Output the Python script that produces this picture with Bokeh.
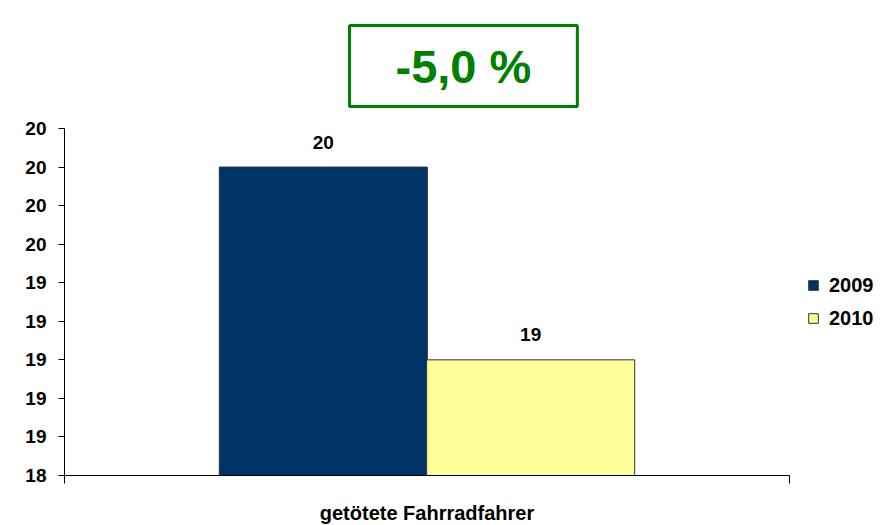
from bokeh.plotting import figure
from bokeh.models import (FactorRange, Range1d, FixedTicker, LinearAxis, ColumnDataSource,
                          Legend, LegendItem, Title)
from bokeh.transform import dodge
from bokeh.core.properties import value
from bokeh.embed import file_html
from bokeh.resources import INLINE

category = ["getötete Fahrradfahrer"]
years = ["2009", "2010"]
values = [20, 19]
colors = ["#003366", "#FFFF99"]
change_text = "-5,0 %"
y_ticks = [18.4, 18.6, 18.8, 19.0, 19.2, 19.4, 19.6, 19.8, 20.0, 20.2]
y_tick_labels = ["18", "19", "19", "19", "19", "19", "20", "20", "20", "20"]

FONT = "Liberation Sans"

title = Title(text=change_text, align="left", offset=285, standoff=44,
              text_font=FONT, text_font_style="bold", text_font_size="47px",
              text_color="#008000", border_line_color="#008000", border_line_width=3,
              background_fill_color="white", padding=(46, 14))

p = figure(frame_width=725, frame_height=347, x_range=FactorRange(*category, range_padding=0),
           y_range=Range1d(y_ticks[0], y_ticks[-1]), title=title,
           output_backend="svg", toolbar_location=None,
           min_border_left=64, min_border_right=102, min_border_top=128, min_border_bottom=50)
p.outline_line_color = None
p.xgrid.visible = False
p.ygrid.visible = False
p.background_fill_color = "white"
p.border_fill_color = "white"

# y axis
p.yaxis.ticker = FixedTicker(ticks=y_ticks)
p.yaxis.major_label_overrides = {t: l for t, l in zip(y_ticks, y_tick_labels)}
p.yaxis.major_tick_out = 6
p.yaxis.major_tick_in = 0
p.yaxis.minor_tick_line_color = None
p.yaxis.axis_line_color = "black"
p.yaxis.major_tick_line_color = "black"
p.yaxis.major_label_text_font = FONT
p.yaxis.major_label_text_font_style = "bold"
p.yaxis.major_label_text_font_size = "19px"
p.yaxis.major_label_text_color = "black"
p.yaxis.major_label_standoff = 12

# x axis (category label)
xa = p.xaxis[0]
xa.axis_line_color = None
xa.major_tick_line_color = None
xa.minor_tick_line_color = None
xa.major_label_text_font = FONT
xa.major_label_text_font_style = "bold"
xa.major_label_text_font_size = "20px"
xa.major_label_text_color = "black"
xa.major_label_standoff = 12

# frame axis line with end ticks at the category boundaries
edge_axis = LinearAxis(ticker=FixedTicker(ticks=[0, 1]),
                       major_label_overrides={0: "", 1: ""},
                       major_label_text_font_size="0px",
                       major_tick_out=8, major_tick_in=0, major_label_standoff=0,
                       axis_line_color="black", major_tick_line_color="black",
                       minor_tick_line_color=None)
p.below.insert(0, edge_axis)

offsets = [-0.143, 0.143]
items = []
for yr, v, c, off in zip(years, values, colors, offsets):
    src = ColumnDataSource(dict(cat=category, val=[v], lab=[str(v)]))
    r = p.vbar(x=dodge("cat", off, range=p.x_range), top="val", bottom=y_ticks[0], width=0.287,
               source=src, fill_color=c, line_color="#333333", line_width=1)
    p.text(x=dodge("cat", off, range=p.x_range), y="val", text="lab", source=src,
           text_font=value(FONT), text_font_style="bold", text_font_size="19px",
           text_align="center", text_baseline="alphabetic", y_offset=-25, text_color="black")
    items.append(LegendItem(label=yr, renderers=[r]))

legend = Legend(items=items, location="center_left", glyph_width=12, glyph_height=12,
                label_text_font=FONT, label_text_font_style="bold", label_text_font_size="20px",
                label_text_color="black", label_standoff=10, spacing=10, padding=0, margin=18,
                border_line_color=None, background_fill_alpha=0, label_height=20)
p.add_layout(legend, "right")

open("out.html", "w").write(file_html(p, INLINE))
